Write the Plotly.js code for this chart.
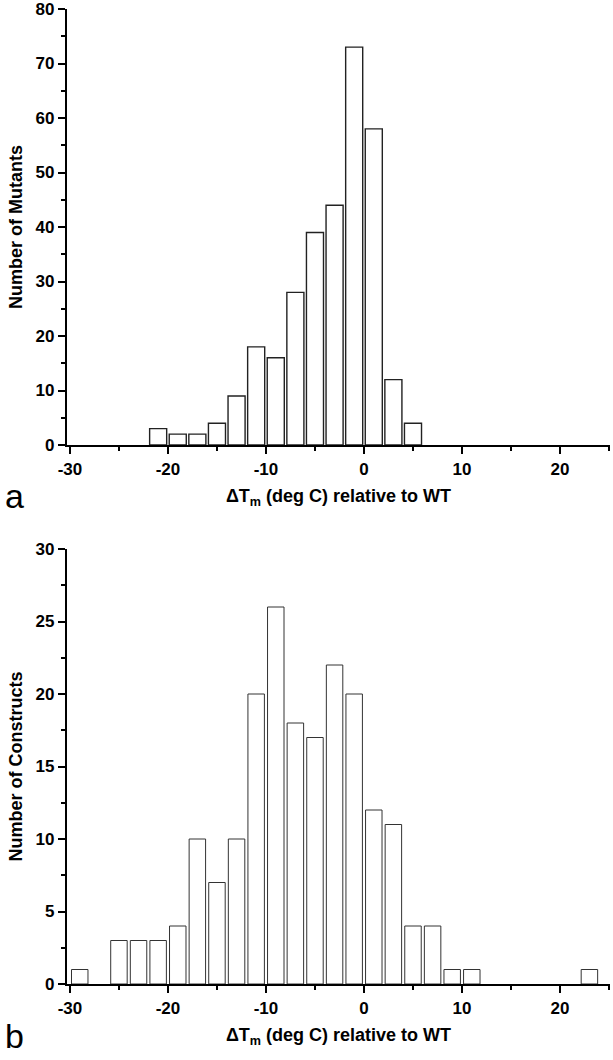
<!DOCTYPE html>
<html>
<head>
<meta charset="utf-8">
<script src="https://cdn.plot.ly/plotly-3.0.1.min.js"></script>
<style>
  html, body { margin: 0; padding: 0; background: #ffffff; }
  #chart { width: 613px; height: 1060px; }
</style>
</head>
<body>
<div id="chart"></div>
<script>
// ---- data ----
// (a) histogram of ΔTm for mutants: bin centres (deg C) and counts
const mutantBinCenters = [-21, -19, -17, -15, -13, -11, -9, -7, -5, -3, -1, 1, 3, 5];
const mutantCounts     = [3, 2, 2, 4, 9, 18, 16, 28, 39, 44, 73, 58, 12, 4];

// (b) histogram of ΔTm for constructs
const constructBinCenters = [-29, -25, -23, -21, -19, -17, -15, -13, -11, -9, -7, -5, -3, -1, 1, 3, 5, 7, 9, 11, 23];
const constructCounts     = [1, 3, 3, 3, 4, 10, 7, 10, 20, 26, 18, 17, 22, 20, 12, 11, 4, 4, 1, 1, 1];

// tick values / labels
const xTickVals = [-30, -20, -10, 0, 10, 20];
const yTickValsA = [0, 10, 20, 30, 40, 50, 60, 70, 80];
const yTickValsB = [0, 5, 10, 15, 20, 25, 30];

const xTitleText = 'ΔT<sub>m</sub> (deg C) relative to WT';
const yTitleA = 'Number of Mutants';
const yTitleB = 'Number of Constructs';
const panelLabels = ['a', 'b'];

// ---- styling ----
const FONT = 'Liberation Sans, Arial, Helvetica, sans-serif';
const tickFont = {family: FONT, size: 17, color: '#000'};
const titleFont = {family: FONT, size: 18, color: '#000'};
const bold = s => '<b>' + s + '</b>';

const H = 1060;
const topDomain = [1 - 445 / H, 1 - 9 / H];
const botDomain = [1 - 984 / H, 1 - 549 / H];

function xAxis(anchor) {
  return {
    domain: [0, 1],
    anchor: anchor,
    range: [-30.3, 25.1],
    tickmode: 'array',
    tickvals: xTickVals,
    ticktext: xTickVals.map(v => bold(String(v))),
    ticks: 'outside',
    ticklen: 7,
    tickwidth: 2,
    tickcolor: '#000',
    minor: {dtick: 5, tick0: -30, ticks: 'outside', ticklen: 4, tickwidth: 2, tickcolor: '#000', showgrid: false},
    showline: true,
    linecolor: '#000',
    linewidth: 2.2,
    mirror: false,
    showgrid: false,
    zeroline: false,
    tickfont: tickFont,
    ticklabeloverflow: 'allow',
    title: {text: bold(xTitleText), font: titleFont, standoff: 12},
    fixedrange: true
  };
}

function yAxis(anchor, domain, range, tickvals, minorStep, title) {
  return {
    domain: domain,
    anchor: anchor,
    range: range,
    tickmode: 'array',
    tickvals: tickvals,
    ticktext: tickvals.map(v => bold(String(v))),
    ticks: 'outside',
    ticklen: 7,
    tickwidth: 2,
    tickcolor: '#000',
    minor: {dtick: minorStep, tick0: 0, ticks: 'outside', ticklen: 4, tickwidth: 2, tickcolor: '#000', showgrid: false},
    showline: true,
    linecolor: '#000',
    linewidth: 2.2,
    mirror: false,
    showgrid: false,
    zeroline: false,
    tickfont: tickFont,
    ticklabeloverflow: 'allow',
    title: {text: bold(title), font: titleFont, standoff: 8},
    fixedrange: true
  };
}

const traces = [
  {
    type: 'bar',
    x: mutantBinCenters,
    y: mutantCounts,
    width: 1.74,
    xaxis: 'x',
    yaxis: 'y',
    marker: {color: '#ffffff', line: {color: '#222222', width: 1.4}},
    hoverinfo: 'x+y',
    showlegend: false
  },
  {
    type: 'bar',
    x: constructBinCenters,
    y: constructCounts,
    width: 1.68,
    xaxis: 'x2',
    yaxis: 'y2',
    marker: {color: '#ffffff', line: {color: '#333333', width: 1}},
    hoverinfo: 'x+y',
    showlegend: false
  }
];

const layout = {
  width: 613,
  height: 1060,
  margin: {l: 67, r: 3, t: 0, b: 0, pad: 0},
  paper_bgcolor: '#ffffff',
  plot_bgcolor: '#ffffff',
  font: {family: FONT, color: '#000'},
  xaxis: xAxis('y'),
  yaxis: yAxis('x', topDomain, [0, 80], yTickValsA, 5, yTitleA),
  xaxis2: xAxis('y2'),
  yaxis2: yAxis('x2', botDomain, [0, 30], yTickValsB, 2.5, yTitleB),
  annotations: [
    {text: panelLabels[0], xref: 'paper', yref: 'paper', x: -0.118, y: 1 - 496 / H,
     xanchor: 'left', yanchor: 'middle', showarrow: false,
     font: {family: FONT, size: 34, color: '#000'}},
    {text: panelLabels[1], xref: 'paper', yref: 'paper', x: -0.118, y: 1 - 1036 / H,
     xanchor: 'left', yanchor: 'middle', showarrow: false,
     font: {family: FONT, size: 34, color: '#000'}}
  ]
};

Plotly.newPlot('chart', traces, layout, {displayModeBar: false, staticPlot: true});
</script>
</body>
</html>
